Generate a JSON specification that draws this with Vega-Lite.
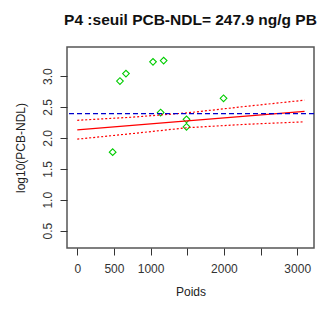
{
  "$schema": "https://vega.github.io/schema/vega-lite/v6.json",
  "autosize": "none",
  "width": 247,
  "height": 201,
  "padding": {"left": 67, "top": 47, "right": 5, "bottom": 64},
  "background": "white",
  "config": {
    "font": "Liberation Sans",
    "view": {"stroke": "#555555", "strokeWidth": 1.5},
    "axis": {"grid": false, "domain": false, "tickColor": "#333333", "tickSize": 7, "labelColor": "#333333", "titleColor": "#222222", "labelFontSize": 12, "titleFontSize": 12, "titleFontWeight": "normal", "labelFont": "Liberation Sans", "titleFont": "Liberation Sans"}
  },
  "title": {"text": "P4 :seuil PCB-NDL= 247.9 ng/g PB", "fontSize": 15.5, "fontWeight": "bold", "font": "Liberation Sans", "offset": 19, "color": "#111111"},
  "datasets": {
    "pts": [
      {"Poids": 483, "logPCB": 1.77},
      {"Poids": 582, "logPCB": 2.92},
      {"Poids": 664, "logPCB": 3.04},
      {"Poids": 1033, "logPCB": 3.23},
      {"Poids": 1178, "logPCB": 3.25},
      {"Poids": 1137, "logPCB": 2.41},
      {"Poids": 1490, "logPCB": 2.30},
      {"Poids": 1490, "logPCB": 2.18},
      {"Poids": 1995, "logPCB": 2.64}
    ],
    "fit": [
      {"Poids": 0, "fit": 2.13, "lwr": 1.98, "upr": 2.285},
      {"Poids": 750, "fit": 2.203, "lwr": 2.07, "upr": 2.335},
      {"Poids": 1500, "fit": 2.275, "lwr": 2.165, "upr": 2.405},
      {"Poids": 2300, "fit": 2.353, "lwr": 2.22, "upr": 2.51},
      {"Poids": 3100, "fit": 2.43, "lwr": 2.26, "upr": 2.61}
    ]
  },
  "layer": [
    {
      "data": {"name": "pts"},
      "mark": {"type": "point", "shape": "diamond", "filled": false, "color": "#00CC00", "size": 45, "strokeWidth": 1.1, "opacity": 1},
      "encoding": {
        "x": {"field": "Poids", "type": "quantitative", "scale": {"domain": [-140, 3229], "nice": false, "zero": false}, "axis": {"title": "Poids", "values": [0, 500, 1000, 1500, 2000, 2500, 3000], "labelExpr": "datum.value == 1500 || datum.value == 2500 ? '' : datum.label", "format": "d", "labelPadding": 8, "titlePadding": 12, "labelFlush": false}},
        "y": {"field": "logPCB", "type": "quantitative", "scale": {"domain": [0.22, 3.47], "nice": false, "zero": false}, "axis": {"title": "log10(PCB-NDL)", "values": [0.5, 1.0, 1.5, 2.0, 2.5, 3.0], "format": ".1f", "labelAngle": -90, "labelAlign": "center", "labelBaseline": "bottom", "labelPadding": 6, "titlePadding": 14, "labelFlush": false}}
      }
    },
    {
      "data": {"name": "fit"},
      "mark": {"type": "line", "color": "#FF0000", "strokeWidth": 1.2},
      "encoding": {"x": {"field": "Poids", "type": "quantitative"}, "y": {"field": "fit", "type": "quantitative"}}
    },
    {
      "data": {"name": "fit"},
      "mark": {"type": "line", "color": "#FF0000", "strokeWidth": 1.2, "strokeDash": [2, 2]},
      "encoding": {"x": {"field": "Poids", "type": "quantitative"}, "y": {"field": "lwr", "type": "quantitative"}}
    },
    {
      "data": {"name": "fit"},
      "mark": {"type": "line", "color": "#FF0000", "strokeWidth": 1.2, "strokeDash": [2, 2]},
      "encoding": {"x": {"field": "Poids", "type": "quantitative"}, "y": {"field": "upr", "type": "quantitative"}}
    },
    {
      "data": {"values": [{"seuil": 2.394}]},
      "mark": {"type": "rule", "color": "#0000CC", "strokeWidth": 1.2, "strokeDash": [5, 3]},
      "encoding": {"y": {"field": "seuil", "type": "quantitative"}}
    }
  ]
}
